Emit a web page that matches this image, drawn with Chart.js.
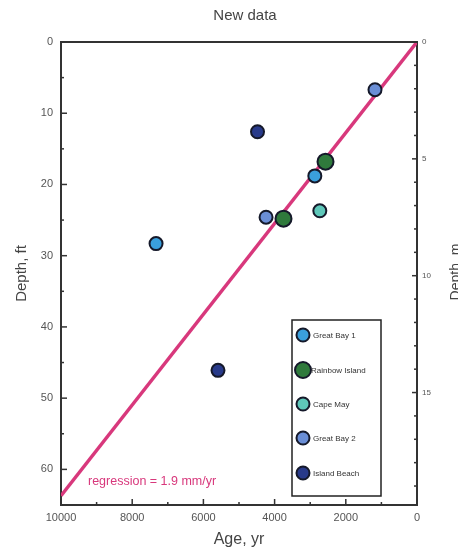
<!DOCTYPE html>
<html>
<head>
<meta charset="utf-8">
<script src="https://cdn.jsdelivr.net/npm/chart.js@4.4.1/dist/chart.umd.min.js"></script>
<style>
  html, body { margin: 0; padding: 0; background: #fff; }
  #wrap { width: 458px; height: 550px; }
</style>
</head>
<body>
<div id="wrap"><canvas id="chart" width="458" height="550"></canvas></div>
<script>
// sites and their samples: age (yr BP) and depth (ft)
const sites = ['Great Bay 1', 'Rainbow Island', 'Cape May', 'Great Bay 2', 'Island Beach'];
const siteColors = ['#3a9fdc', '#2f7a3c', '#5ec7b9', '#6a8ed6', '#283a8a'];
const siteRadius = [6.5, 8, 6.5, 6.5, 6.5];

const greatBay1Age = [2870, 7330];
const greatBay1Depth = [18.8, 28.3];
const rainbowAge = [2570, 3750];
const rainbowDepth = [16.8, 24.8];
const capeMayAge = [2730];
const capeMayDepth = [23.7];
const greatBay2Age = [1180, 4240];
const greatBay2Depth = [6.7, 24.6];
const islandBeachAge = [4480, 5590];
const islandBeachDepth = [12.6, 46.1];

// regression line end points (age, depth ft)
const regAge = [0, 10000];
const regDepth = [0, 63.7];
const regLabel = 'regression = 1.9 mm/yr';

const xTicksMajor = 2000;
const yMax = 65;
const ftToM = 0.3048;

const ages = [greatBay1Age, rainbowAge, capeMayAge, greatBay2Age, islandBeachAge];
const depths = [greatBay1Depth, rainbowDepth, capeMayDepth, greatBay2Depth, islandBeachDepth];

const pts = (xs, ys) => xs.map((x, i) => ({ x: x, y: ys[i] }));

const datasets = sites.map((name, i) => ({
    label: name,
    data: pts(ages[i], depths[i]),
    backgroundColor: siteColors[i],
    borderColor: '#15192a',
    borderWidth: 2,
    pointRadius: siteRadius[i],
    order: 1
}));
datasets.push({
    type: 'line',
    label: 'regression',
    data: pts(regAge, regDepth),
    borderColor: '#d8387c',
    borderWidth: 3.5,
    pointRadius: 0,
    fill: false,
    order: 5
});

const FONT = "'Liberation Sans', Arial, sans-serif";
const AXIS = '#333';

// inward tick marks, frame top line, legend box, labels
const extras = {
    id: 'extras',
    afterDraw(chart) {
        const ctx = chart.ctx;
        const a = chart.chartArea;
        const sx = chart.scales.x, sy = chart.scales.y, sm = chart.scales.y2;
        ctx.save();
        ctx.strokeStyle = AXIS;
        ctx.lineWidth = 2;
        ctx.beginPath();
        ctx.moveTo(a.left - 1, a.top);
        ctx.lineTo(a.right + 1, a.top);
        ctx.stroke();

        ctx.lineWidth = 1.5;
        sx.ticks.forEach(t => {
            const px = sx.getPixelForValue(t.value);
            const len = t.value % xTicksMajor === 0 ? 6 : 3;
            ctx.beginPath(); ctx.moveTo(px, a.bottom); ctx.lineTo(px, a.bottom - len); ctx.stroke();
        });
        sy.ticks.forEach(t => {
            const py = sy.getPixelForValue(t.value);
            const len = t.value % 10 === 0 ? 6 : 3;
            ctx.beginPath(); ctx.moveTo(a.left, py); ctx.lineTo(a.left + len, py); ctx.stroke();
        });
        sm.ticks.forEach(t => {
            if (t.value % 1 !== 0) return;
            const py = sm.getPixelForValue(t.value);
            const len = t.value % 5 === 0 ? 5 : 3;
            ctx.beginPath(); ctx.moveTo(a.right, py); ctx.lineTo(a.right - len, py); ctx.stroke();
        });

        // title
        ctx.fillStyle = '#444';
        ctx.font = '15px ' + FONT;
        ctx.textAlign = 'center';
        ctx.textBaseline = 'middle';
        ctx.fillText('New data', 245, 16);

        // right axis title, partly off the page
        ctx.save();
        ctx.translate(456, 272);
        ctx.rotate(-Math.PI / 2);
        ctx.fillStyle = '#444';
        ctx.font = '14px ' + FONT;
        ctx.fillText('Depth, m', 0, 0);
        ctx.restore();

        // regression label
        ctx.fillStyle = '#d8387c';
        ctx.font = '12.5px ' + FONT;
        ctx.textAlign = 'left';
        ctx.fillText(regLabel, 88, 482);

        // legend box
        const bx = 292, by = 320, bw = 89, bh = 176;
        ctx.fillStyle = '#fff';
        ctx.fillRect(bx, by, bw, bh);
        ctx.strokeStyle = '#222';
        ctx.lineWidth = 1.5;
        ctx.strokeRect(bx, by, bw, bh);
        const rows = [335, 370, 404, 438, 473];
        ctx.font = '8px ' + FONT;
        sites.forEach((name, i) => {
            ctx.beginPath();
            ctx.arc(bx + 11, rows[i], siteRadius[i], 0, Math.PI * 2);
            ctx.fillStyle = siteColors[i];
            ctx.fill();
            ctx.lineWidth = 2;
            ctx.strokeStyle = '#15192a';
            ctx.stroke();
            ctx.fillStyle = '#333';
            ctx.fillText(name, bx + (i === 1 ? 19 : 21), rows[i] + 1);
        });
        ctx.restore();
    }
};

new Chart(document.getElementById('chart').getContext('2d'), {
    type: 'scatter',
    data: { datasets: datasets },
    plugins: [extras],
    options: {
        responsive: false,
        animation: false,
        layout: { padding: { top: 42, left: 0, right: 0, bottom: 0 } },
        plugins: {
            legend: { display: false },
            title: { display: false },
            tooltip: { enabled: false }
        },
        scales: {
            x: {
                type: 'linear',
                position: 'bottom',
                reverse: true,
                min: 0,
                max: 10000,
                grid: { display: false, drawTicks: false },
                border: { display: true, color: AXIS, width: 2 },
                ticks: {
                    stepSize: 1000,
                    padding: 6,
                    color: '#555',
                    font: { family: FONT, size: 11 },
                    maxRotation: 0,
                    autoSkip: false,
                    callback: v => (v % xTicksMajor === 0 ? String(v) : '')
                },
                title: {
                    display: true,
                    text: 'Age, yr',
                    color: '#444',
                    font: { family: FONT, size: 16 },
                    padding: { top: 0, bottom: 1 }
                },
                afterFit: s => { s.height = 45; }
            },
            y: {
                type: 'linear',
                position: 'left',
                reverse: true,
                min: 0,
                max: yMax,
                grid: { display: false, drawTicks: false },
                border: { display: true, color: AXIS, width: 2 },
                ticks: {
                    stepSize: 5,
                    padding: 8,
                    color: '#555',
                    font: { family: FONT, size: 11 },
                    autoSkip: false,
                    callback: v => (v % 10 === 0 ? String(v) : '')
                },
                title: {
                    display: true,
                    text: 'Depth, ft',
                    color: '#444',
                    font: { family: FONT, size: 15 },
                    padding: { top: 13, bottom: 0 }
                },
                afterFit: s => { s.width = 61; }
            },
            y2: {
                type: 'linear',
                position: 'right',
                reverse: true,
                min: 0,
                max: yMax * ftToM,
                grid: { display: false, drawTicks: false },
                border: { display: true, color: AXIS, width: 2 },
                ticks: {
                    stepSize: 1,
                    padding: 5,
                    color: '#555',
                    font: { family: FONT, size: 8 },
                    autoSkip: false,
                    callback: v => (v % 5 === 0 ? String(v) : '')
                },
                afterFit: s => { s.width = 41; }
            }
        }
    }
});
</script>
</body>
</html>
